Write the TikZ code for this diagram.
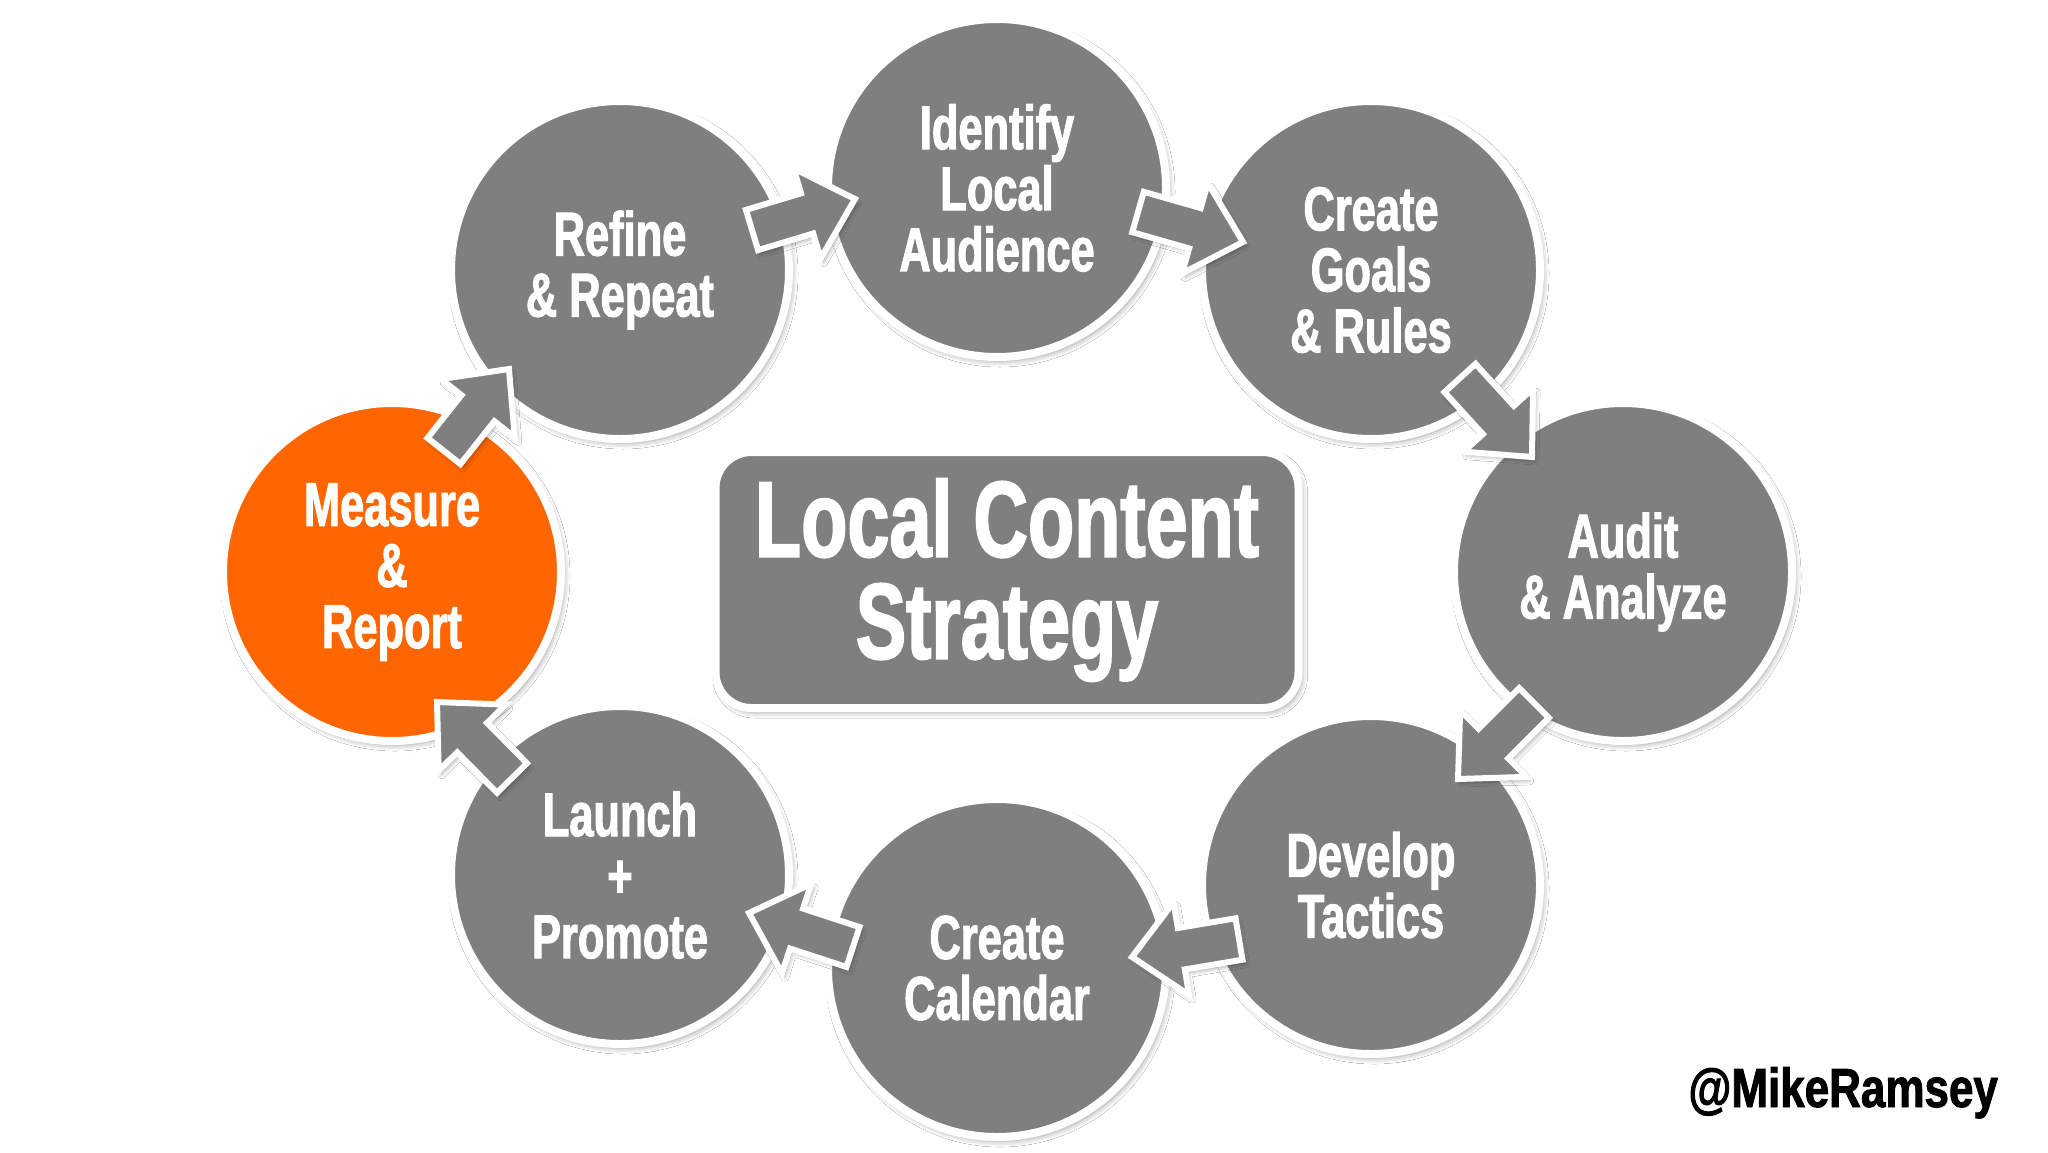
\documentclass[tikz,border=0pt]{standalone}
\usepackage{fontspec}
\usetikzlibrary{shadows,shadows.blur}
\newfontfamily\impfont[FakeStretch=0.7,FakeBold=1.6]{Liberation Sans}
\newfontfamily\handfont[FakeStretch=0.8,FakeBold=1.6]{Liberation Sans}
\definecolor{cgray}{HTML}{7F7F7F}
\definecolor{corange}{HTML}{FF6600}
\tikzset{
  circ/.style={circle, draw=white, line width=4pt, fill=cgray, minimum size=169pt,
    inner sep=0pt, align=center, text=white,
    font={\impfont\bfseries\fontsize{31}{30.5}\selectfont},
    blur shadow={shadow xshift=1.5pt, shadow yshift=-2pt, shadow opacity=40, shadow blur radius=3pt}},
  hot/.style={fill=corange},
  titlebox/.style={rectangle, rounded corners=18pt, draw=white, line width=4pt, fill=cgray,
    minimum width=291.5pt, minimum height=128pt, inner sep=0pt, align=center, text=white,
    font={\impfont\bfseries\fontsize{54}{51}\selectfont},
    blur shadow={shadow xshift=1.5pt, shadow yshift=-2pt, shadow opacity=40, shadow blur radius=3pt}},
  barrow/.style={fill=cgray, draw=white, line width=3pt, line join=miter,
    blur shadow={shadow xshift=1.5pt, shadow yshift=-2pt, shadow opacity=30, shadow blur radius=2pt}},
  handle/.style={anchor=base east, text=black, font={\handfont\bfseries\fontsize{27.5}{30}\selectfont}}
}
% block arrow from tail (#1,#2) to tip (#3,#4), pixel units, y down
\newcommand\blockarrow[4]{%
  \pgfmathsetmacro\bax{#3-#1}%
  \pgfmathsetmacro\bay{#2-#4}%
  \pgfmathsetmacro\baang{atan2(\bay,\bax)}%
  \pgfmathsetmacro\balen{veclen(\bax,\bay)}%
  \begin{scope}[shift={(#1,#2)}, rotate=\baang]
    \draw[barrow] (0,-21) -- (\balen-50,-21) -- (\balen-50,-47) -- (\balen,0)
      -- (\balen-50,47) -- (\balen-50,21) -- (0,21) -- cycle;
  \end{scope}}
\begin{document}
\begin{tikzpicture}[x=0.5pt, y=-0.5pt]
\useasboundingbox[fill=white] (0,0) rectangle (2048,1152);
% circles
\node[circ] (refine) at (620,270) {Refine\\\& Repeat};
\node[circ] (identify) at (997,188) {Identify\\Local\\Audience};
\node[circ] (goals) at (1371,270) {Create\\Goals\\\& Rules};
\node[circ] (audit) at (1623,572) {Audit\\\& Analyze};
\node[circ] (develop) at (1371,885) {Develop\\Tactics};
\node[circ] (calendar) at (997,968) {Create\\Calendar};
\node[circ] (launch) at (620,875) {Launch\\+\\Promote};
\node[circ, hot] (measure) at (392,572) {Measure\\\&\\Report};
% centre box
\node[titlebox] (title) at (1007,580) {Local Content\\Strategy};
% block arrows
\blockarrow{752}{230}{855}{199}
\blockarrow{1138}{212}{1243}{242}
\blockarrow{1460}{378}{1532}{457}
\blockarrow{1534}{703}{1458}{779}
\blockarrow{1239}{939}{1132}{957}
\blockarrow{853}{947}{749}{913}
\blockarrow{512}{778}{437}{702}
\blockarrow{444}{451}{509}{369}
% handle
\node[handle] (tag) at (2005,1107) {@MikeRamsey};
\end{tikzpicture}
\end{document}
